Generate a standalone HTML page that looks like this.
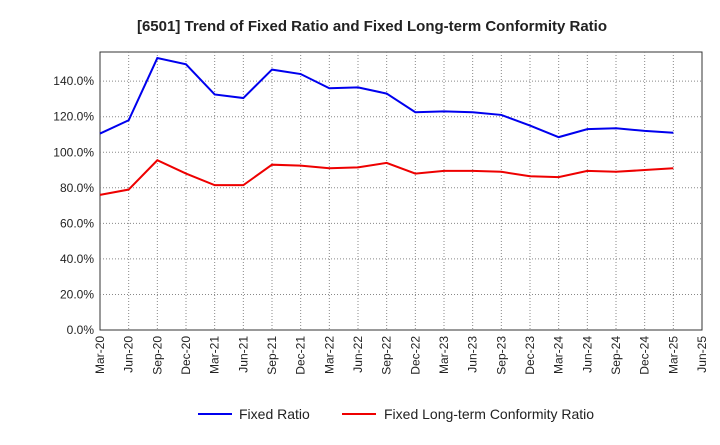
<!DOCTYPE html>
<html><head><meta charset="utf-8"><style>
body{margin:0;background:#fff;font-family:"Liberation Sans",sans-serif;}
svg text{font-family:"Liberation Sans",sans-serif;}
</style></head><body>
<svg id="chart" width="720" height="440" xmlns="http://www.w3.org/2000/svg">
<text x="372" y="31" text-anchor="middle" font-size="15" font-weight="bold" fill="#222">[6501]  Trend of Fixed Ratio and Fixed Long-term Conformity Ratio</text>
<g id="grid"></g><g id="axes"></g><g id="series"></g>
<g>
<line x1="198" y1="414" x2="232" y2="414" stroke="#0000ee" stroke-width="2"/>
<text x="239" y="419" font-size="14" fill="#222">Fixed Ratio</text>
<line x1="342" y1="414" x2="376" y2="414" stroke="#ee0000" stroke-width="2"/>
<text x="384" y="419" font-size="14" fill="#222">Fixed Long-term Conformity Ratio</text>
</g>
</svg>
<script>
const categories=["Mar-20","Jun-20","Sep-20","Dec-20","Mar-21","Jun-21","Sep-21","Dec-21","Mar-22","Jun-22","Sep-22","Dec-22","Mar-23","Jun-23","Sep-23","Dec-23","Mar-24","Jun-24","Sep-24","Dec-24","Mar-25","Jun-25"];
const fixedRatio=[110.5,118,153,149.5,132.5,130.5,146.5,144,136,136.5,133,122.5,123,122.5,121,115,108.5,113,113.5,112,111];
const conformityRatio=[76,79,95.5,88,81.5,81.5,93,92.5,91,91.5,94,88,89.5,89.5,89,86.5,86,89.5,89,90,91];
const yTicks=[0,20,40,60,80,100,120,140];
const yTickLabels=["0.0%","20.0%","40.0%","60.0%","80.0%","100.0%","120.0%","140.0%"];
const L=100,R=702,T=52,B=330,YMAX=156.4;
const x=i=>L+i*(R-L)/(categories.length-1);
const y=v=>B-v/YMAX*(B-T);
const NS="http://www.w3.org/2000/svg";
function mk(tag,attrs,parent){const e=document.createElementNS(NS,tag);for(const k in attrs)e.setAttribute(k,attrs[k]);parent.appendChild(e);return e;}
const grid=document.getElementById('grid'),axes=document.getElementById('axes'),series=document.getElementById('series');
mk('rect',{x:L,y:T,width:R-L,height:B-T,fill:'#fff',stroke:'#333','stroke-width':1},grid);
yTicks.forEach((v,i)=>{
  if(v>0){const g=mk('line',{x1:L,x2:R,y1:y(v),y2:y(v),stroke:'#888','stroke-dasharray':'1,2'},grid);
  
  }
  const t=mk('text',{x:L-6,y:y(v)+4,'text-anchor':'end','font-size':12,fill:'#222'},axes);
  t.textContent=yTickLabels[i];
  
  
});
categories.forEach((c,i)=>{
  if(i>0&&i<categories.length-1){const g=mk('line',{x1:x(i),x2:x(i),y1:T,y2:B,stroke:'#888','stroke-dasharray':'1,2'},grid);
  
  }
  const t=mk('text',{x:0,y:0,'text-anchor':'end','font-size':12,fill:'#222',transform:`translate(${x(i)+4},${B+6}) rotate(-90)`},axes);
  t.textContent=c;
  
  
});
function line(vals,color,name){
  const p=mk('polyline',{points:vals.map((v,i)=>x(i)+','+y(v)).join(' '),fill:'none',stroke:color,'stroke-width':2},series);
  
  
}
line(fixedRatio,'#0000ee','fixed-ratio-line');
line(conformityRatio,'#ee0000','conformity-ratio-line');
</script>
</body></html>
